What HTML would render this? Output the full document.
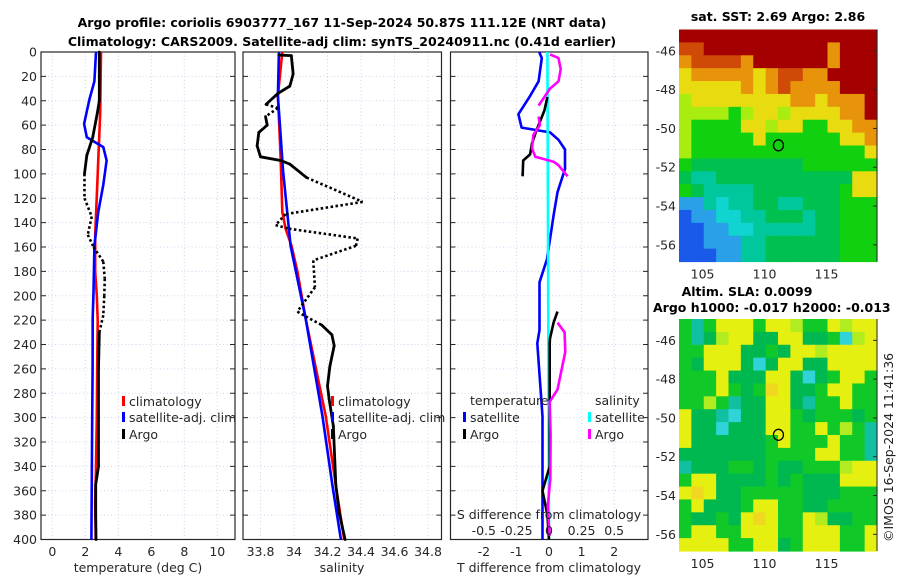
<!DOCTYPE html>
<html><head><meta charset="utf-8"><style>
html,body{margin:0;padding:0;background:#fff;}
svg{display:block;font-family:"DejaVu Sans","Liberation Sans",sans-serif;}
</style></head>
<body>
<svg id="fig" width="900" height="580" viewBox="0 0 900 580" xmlns="http://www.w3.org/2000/svg">
<text x="342" y="27" text-anchor="middle" font-weight="bold" font-size="12.5">Argo profile: coriolis 6903777_167 11-Sep-2024 50.87S 111.12E (NRT data)</text>
<text x="342" y="46" text-anchor="middle" font-weight="bold" font-size="12.5">Climatology: CARS2009. Satellite-adj clim: synTS_20240911.nc (0.41d earlier)</text>
<text x="778" y="21" text-anchor="middle" font-weight="bold" font-size="12.5">sat. SST: 2.69 Argo: 2.86</text>
<text x="747" y="296" text-anchor="middle" font-weight="bold" font-size="12.5">Altim. SLA: 0.0099</text>
<text x="653" y="312" font-weight="bold" font-size="12.5">Argo h1000: -0.017 h2000: -0.013</text>
<text transform="translate(893,542) rotate(-90)" font-size="12.5" fill="#222">©IMOS 16-Sep-2024 11:41:36</text>
</svg>
<script>
// ---------- data ----------
const depthTicks = [0,20,40,60,80,100,120,140,160,180,200,220,240,260,280,300,320,340,360,380,400];
const tempTicks = [0,2,4,6,8,10];
const salTicks = [33.8,34,34.2,34.4,34.6,34.8];
const salTickLabels = ["33.8","34","34.2","34.4","34.6","34.8"];
const tdiffTicks = [-2,-1,0,1,2];
const sdiffTicks = [-0.5,-0.25,0,0.25,0.5];
const sdiffTickLabels = ["-0.5","-0.25","0","0.25","0.5"];

const tArgoDepth = [0,40,50,70,85,100,120,135,150,160,172,186,200,216,230,260,300,340,355,380,400];
const tArgo = [2.85,2.85,2.73,2.45,2.09,1.95,1.95,2.39,2.15,2.5,3.09,3.18,3.15,3.09,2.85,2.8,2.8,2.8,2.63,2.63,2.65];
const tArgoQC = [1,1,1,1,1,1,0,0,0,0,0,0,0,0,1,1,1,1,1,1,1];
const tClimDepth = [0,50,100,150,180,200,220,260,300,340,370,400];
const tClim = [2.95,2.9,2.75,2.6,2.6,2.7,2.75,2.72,2.7,2.65,2.6,2.63];
const tSatDepth = [0,24,39,59,70,78,89,109,131,159,197,218,260,300,400];
const tSat = [2.65,2.55,2.25,1.93,2.09,3.09,3.29,3.09,2.79,2.55,2.5,2.45,2.44,2.42,2.37];

const sArgoDepth = [2.5,3,18,28,34,43,46,53,60,66,77,86,89,92,103,123,133,142,145,153,159,171,193,213,217,224,232,241,258,274,285,307,356,378,400];
const sArgo = [33.91,33.984,33.995,33.975,33.904,33.833,33.904,33.83,33.84,33.79,33.78,33.80,33.92,33.975,34.075,34.41,33.95,33.89,33.97,34.38,34.37,34.115,34.125,34.02,34.07,34.165,34.226,34.24,34.214,34.2,34.21,34.235,34.25,34.27,34.305];
const sArgoQC = [1,1,1,1,1,1,0,1,1,1,1,1,1,1,1,0,0,0,0,0,0,0,0,0,0,1,1,1,1,1,1,1,1,1,1];
const sClimDepth = [0,36,86,131,145,159,180,219,299,356,400];
const sClim = [33.93,33.904,33.92,33.93,33.95,33.985,34.02,34.07,34.19,34.25,34.3];
const sSatDepth = [0,36,98,159,219,299,356,400];
const sSat = [33.91,33.904,33.935,33.98,34.07,34.17,34.23,34.28];

const dTSatDepth = [0,5,24,37,51,62,66,72,80,96,115,134,170,189,228,239,299,400];
const dTSat = [-0.3,-0.22,-0.32,-0.6,-0.94,-0.84,0.03,0.29,0.49,0.49,0.26,0.14,-0.06,-0.29,-0.29,-0.36,-0.2,-0.2];
const dSSatDepth = [0,400];
const dSSat = [-0.012,0.0];
const dTArgoDepth = [37,48,64,75,84,89,102,null,213,222,235,239,340,360,380,400];
const dTArgo = [-0.05,-0.14,-0.38,-0.52,-0.58,-0.79,-0.81,null,0.26,0.14,0.03,0.02,0.02,-0.2,-0.05,0.0];
const dSArgoDepth = [2,5,14,24,30,40,44,null,53,60,68,79,86,90,93,102,null,222,230,246,277,287,314,350,373,397];
const dSArgo = [0.0075,0.0725,0.09,0.0725,0.0075,-0.055,-0.08,null,-0.08,-0.07,-0.12,-0.13,-0.105,0.035,0.0725,0.1425,null,0.065,0.12,0.125,0.065,0.005,0.0125,0.01,-0.01,0.005];

const sstRows = [
"RRRRRRRRRRRRRRRR","rrRRRRRRRRRRoRRR","orrrroRRRRRRoRRR","yoooooyorrooRRRR","yyyyyoyorooooRRR",
"lyyyyyyyyooyoooR","llllglyylyyyyooR","lggggyylyyggyyoo","lgggggyggggggyyo","lggggggggggggggy",
"gGGGGGGGGGgggggg","GccGGGGGGGGGGGyy","gGccccGGGGGGGgyy","bbcCccGGccGGGggg","BbbCCccGGGcGGggg",
"BBbbCCcccccGGggg","BBbbbccGGGGGGggg","BBBbbccGGGGGGggg"];
const slaRows = [
"gtgyyygyylggylyy","gtGlyyGGyyGGgcly","ggyyyGGgGyylyyyy","gGyyyGcGyyGGyyyy","gggyGGGyyGcGgyyg",
"gggygGgoyGGgyygg","gglgtGGyyGtggygg","yGGtcGGyygGgggGg","yGGcGGGyyggyglgt","yGGGGGGgygggyggt",
"GGGGGGGggggyyggt","tGGGggGgGGggglyy","gyyGGGGgGgGGGyyy","yoyGGgggggGGGggg","gyGGGgyyggGGgggg",
"gGGgGyoyggylGGgg","gyyggyyyggyyyggy","yyyyggyyGgyyyggy"];
const latTicks = [-46,-48,-50,-52,-54,-56];
const lonTicks = [105,110,115];
const argoLon = [111.12];
const argoLat = [-50.87];

// ---------- helpers ----------
const NS = "http://www.w3.org/2000/svg";
const svg = document.getElementById("fig");
function mk(tag, attrs, parent){
  const e = document.createElementNS(NS, tag);
  for (const k in attrs) e.setAttribute(k, attrs[k]);
  (parent||svg).appendChild(e);
  return e;
}
const Y0 = 52, Y1 = 539.5;
const yD = d => Y0 + d * (Y1 - Y0) / 400;
const panels = [
  {x0:41, x1:235, f: v => 52.3 + v * 16.5},
  {x0:243, x1:441.5, f: v => 294 + (v - 34) * 167.5},
  {x0:450.5, x1:648, f: v => 549 + v * 32.6}
];
const sdx = v => panels[2].f(v * 4);

function polyPts(fx, depths, vals, i0, i1){
  const pts = [];
  for (let i = i0; i <= i1; i++) pts.push(fx(vals[i]).toFixed(1) + "," + yD(depths[i]).toFixed(1));
  return pts.join(" ");
}
function drawLine(fx, depths, vals, color, name, dash){
  let start = 0;
  for (let i = 0; i <= vals.length; i++){
    if (i === vals.length || vals[i] === null){
      if (i - 1 > start){
        const p = mk("polyline", {points: polyPts(fx, depths, vals, start, i-1), fill:"none", stroke:color, "stroke-width":2.6, "stroke-linejoin":"round"});
        if (dash) p.setAttribute("stroke-dasharray", dash);
        
        
      }
      start = i + 1;
    }
  }
}
function drawArgo(fx, depths, vals, qc, name){
  for (let i = 0; i < vals.length - 1; i++){
    const solid = qc[i] && qc[i+1];
    const p = mk("line", {x1: fx(vals[i]), y1: yD(depths[i]), x2: fx(vals[i+1]), y2: yD(depths[i+1]), stroke:"#000", "stroke-width": solid ? 2.8 : 2.6, "stroke-linecap": solid ? "round" : "butt"});
    if (!solid) p.setAttribute("stroke-dasharray", "2.5,2.5");
    
    
  }
}

// ---------- panel frames, grids ----------
const xTickSets = [
  {ticks: tempTicks, labels: tempTicks.map(String)},
  {ticks: salTicks, labels: salTickLabels},
  {ticks: tdiffTicks, labels: tdiffTicks.map(String)}
];
const panelNames = ["temperature-panel","salinity-panel","difference-panel"];
const gridColor = "#cdd3ec";
panels.forEach((P, pi) => {
  const g = mk("g", {});
  
  
  xTickSets[pi].ticks.forEach((t, ti) => {
    const x = P.f(t);
    const l = mk("line", {x1:x, y1:Y0, x2:x, y2:Y1, stroke:gridColor, "stroke-width":1, "stroke-dasharray":"1,2.5"}, g);
    
    
    const tx = mk("text", {x:x, y:556, "text-anchor":"middle", "font-size":12.5, fill:"#262626"}, g);
    tx.textContent = xTickSets[pi].labels[ti];
    
    
  });
  depthTicks.forEach(d => {
    const y = yD(d);
    const l = mk("line", {x1:P.x0, y1:y, x2:P.x1, y2:y, stroke:gridColor, "stroke-width":1, "stroke-dasharray":"1,2.5"}, g);
    
    
    const t1 = mk("line", {x1:P.x0, y1:y, x2:P.x0+5, y2:y, stroke:"#262626", "stroke-width":1}, g);
    
    
    const t2 = mk("line", {x1:P.x1-5, y1:y, x2:P.x1, y2:y, stroke:"#262626", "stroke-width":1}, g);
    
    
    if (pi === 0){
      const tx = mk("text", {x:37, y:y+4.5, "text-anchor":"end", "font-size":12.5, fill:"#262626"}, g);
      tx.textContent = String(d);
      
      
    }
  });
  const fr = mk("rect", {x:P.x0, y:Y0, width:P.x1-P.x0, height:Y1-Y0, fill:"none", stroke:"#262626", "stroke-width":1.2}, g);
  
  
});

// ---------- series ----------
drawLine(panels[0].f, tClimDepth, tClim, "#ff0000", "temp-climatology-line");
drawLine(panels[0].f, tSatDepth, tSat, "#0000ff", "temp-satellite-clim-line");
drawArgo(panels[0].f, tArgoDepth, tArgo, tArgoQC, "temp-argo-line");

drawLine(panels[1].f, sClimDepth, sClim, "#ff0000", "sal-climatology-line");
drawLine(panels[1].f, sSatDepth, sSat, "#0000ff", "sal-satellite-clim-line");
drawArgo(panels[1].f, sArgoDepth, sArgo, sArgoQC, "sal-argo-line");

drawLine(panels[2].f, dTSatDepth, dTSat, "#0000ff", "tdiff-satellite-line");
drawLine(sdx, dSSatDepth, dSSat, "#00ffff", "sdiff-satellite-line");
drawLine(panels[2].f, dTArgoDepth, dTArgo, "#000000", "tdiff-argo-line");
drawLine(sdx, dSArgoDepth, dSArgo, "#ff00ff", "sdiff-argo-line");

// ---------- axis titles, legends ----------
function txt(x, y, s, name, opts){
  const t = mk("text", Object.assign({x:x, y:y, "font-size":12.5, fill:"#262626"}, opts||{}));
  t.textContent = s;
  
  
  return t;
}
txt(138, 572, "temperature (deg C)", "x-axis-title-temperature", {"text-anchor":"middle"});
txt(342, 572, "salinity", "x-axis-title-salinity", {"text-anchor":"middle"});
txt(549, 572, "T difference from climatology", "x-axis-title-tdiff", {"text-anchor":"middle"});
txt(549, 519, "S difference from climatology", "s-diff-axis-title", {"text-anchor":"middle"});
sdiffTicks.forEach((v, i) => { txt(sdx(v), 535, sdiffTickLabels[i], "s-diff-tick-label", {"text-anchor":"middle"}); });

function legendEntry(mx, y, color, label){
  const r = mk("rect", {x:mx, y:y-9, width:3, height:10, fill:color});
  
  
  txt(mx+7, y+1, label, "legend-entry");
}
legendEntry(122, 405, "#ff0000", "climatology");
legendEntry(122, 421, "#0000ff", "satellite-adj. clim");
legendEntry(122, 438, "#000000", "Argo");
legendEntry(331, 405, "#ff0000", "climatology");
legendEntry(331, 421, "#0000ff", "satellite-adj. clim");
legendEntry(331, 438, "#000000", "Argo");
txt(470, 405, "temperature", "legend-title-temperature");
legendEntry(463, 421, "#0000ff", "satellite");
legendEntry(463, 438, "#000000", "Argo");
txt(595, 405, "salinity", "legend-title-salinity");
legendEntry(588, 421, "#00ffff", "satellite");
legendEntry(588, 438, "#ff00ff", "Argo");

// ---------- maps ----------
const sstColors = {R:"#a50000", r:"#cf4a06", o:"#e8940a", y:"#e8dc10", l:"#a8ec10", g:"#10d010", G:"#00c050", c:"#00c89c", C:"#10d4d0", b:"#2aa0e8", B:"#1a5ae8", w:"#ffffff"};
const slaColors = {g:"#10c828", G:"#00b850", y:"#e6f010", l:"#b0ec20", o:"#f0d820", t:"#10c0a0", c:"#30d4d8"};
function drawMap(top, rows, colors, name){
  const L = 679, R = 877, T = top, B = top + 232;
  const g = mk("g", {});
  
  
  const nr = rows.length, nc = rows[0].length;
  const cw = (R - L) / nc, ch = (B - T) / nr;
  rows.forEach((row, ri) => {
    for (let ci = 0; ci < nc; ci++){
      const c = mk("rect", {x:(L+ci*cw).toFixed(2), y:(T+ri*ch).toFixed(2), width:(cw+0.6).toFixed(2), height:(ch+0.6).toFixed(2), fill:colors[row[ci]]}, g);
      
      
    }
  });
  const lonX = lon => L + (lon - 103.1) * 12.4;
  const latY = lat => T + (-44.9 - lat) * 19.4;
  latTicks.forEach(lat => {
    const y = latY(lat);
    const t1 = mk("line", {x1:R-4, y1:y, x2:R, y2:y, stroke:"#262626"}, g);
    
    
    const tx = mk("text", {x:676, y:y+4.5, "text-anchor":"end", "font-size":12.5, fill:"#262626"}, g);
    tx.textContent = String(lat);
    
    
  });
  lonTicks.forEach(lon => {
    const tx = mk("text", {x:lonX(lon), y:B+17, "text-anchor":"middle", "font-size":12.5, fill:"#262626"}, g);
    tx.textContent = String(lon);
    
    
  });
  const ax = mk("line", {x1:R, y1:T, x2:R, y2:B, stroke:"#262626", "stroke-width":1}, g);
  
  
  argoLon.forEach((lon, i) => {
    const c = mk("ellipse", {cx:lonX(lon), cy:latY(argoLat[i]), rx:5, ry:5.5, fill:"none", stroke:"#000", "stroke-width":1.3}, g);
    
    
  });
}
drawMap(29.5, sstRows, sstColors, "sst-map");
drawMap(319, slaRows, slaColors, "sla-map");
</script>
</body></html>
